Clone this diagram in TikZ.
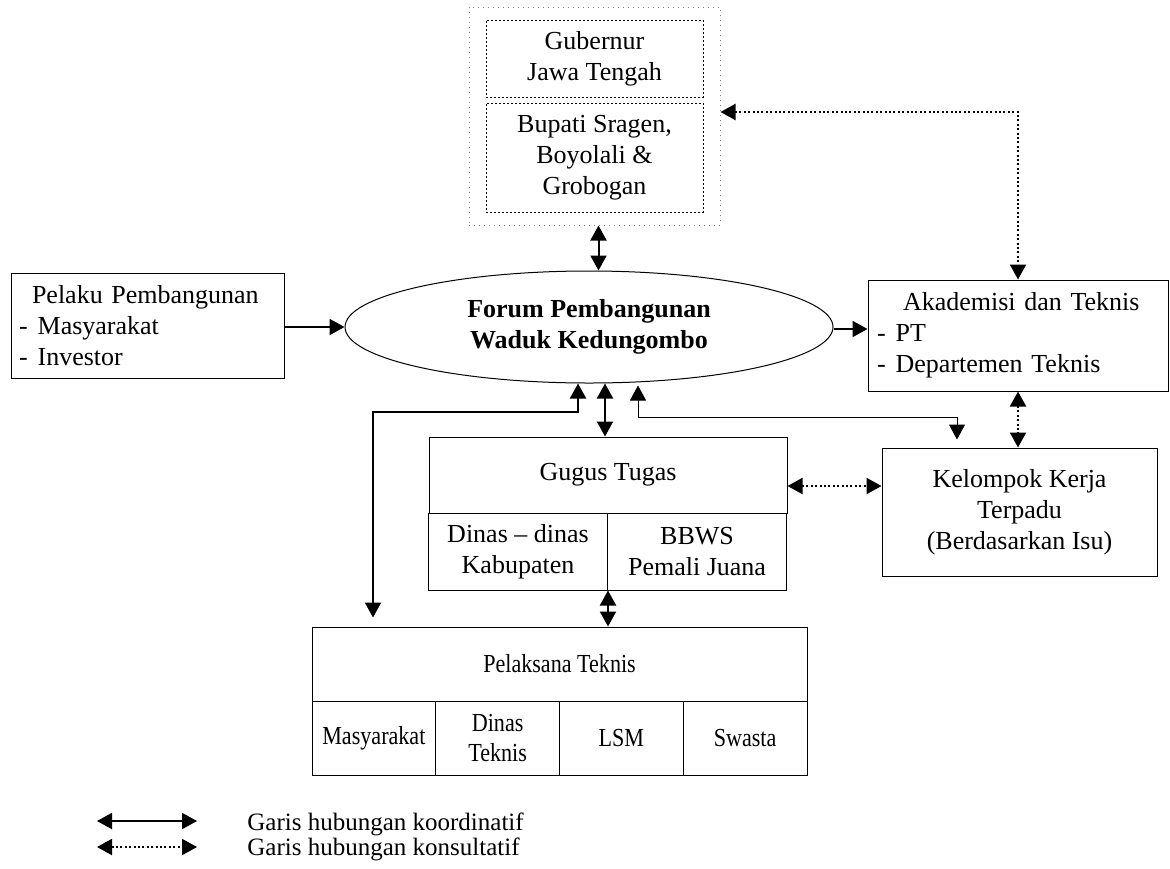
\documentclass[tikz,border=0pt]{standalone}
\usepackage{fontspec}
\setmainfont{Liberation Serif}
\newfontfamily\sempit[FakeStretch=0.85]{Liberation Serif}
\usetikzlibrary{arrows.meta}
\usetikzlibrary{shapes.geometric}

\begin{document}
\begin{tikzpicture}[
      x=0.5pt, y=-0.5pt,
      every node/.style={font=\fontsize{13}{15.5}\selectfont},
      box/.style={draw, line width=0.5pt, inner sep=0pt, align=center},
      kotakdalam/.style={draw, line width=0.4pt, dash pattern=on 1pt off 1pt, inner sep=0pt, align=center},
      koord/.style={line width=1pt, {Triangle[length=7.5pt,width=8pt]}-{Triangle[length=7.5pt,width=8pt]}},
      konsul/.style={line width=1pt, dash pattern=on 1pt off 1.2pt, {Triangle[length=7.5pt,width=8pt]}-{Triangle[length=7.5pt,width=8pt]}},
      tipis/.style={line width=0.5pt, {Triangle[length=7.5pt,width=8pt]}-{Triangle[length=7.5pt,width=8pt]}},
      ]

      \useasboundingbox (0,0) rectangle (1170,868);

      % pemerintah daerah
      \node[draw=gray, line width=0.5pt, dotted, minimum width=125.5pt, minimum height=109pt] (gov) at (594.5,116) {};
      \node[kotakdalam, minimum width=108.5pt, minimum height=38.5pt] (gub) at (594.5,58.5) {Gubernur\\Jawa Tengah};
      \node[kotakdalam, minimum width=108.5pt, minimum height=54.5pt] (bup) at (594.5,157.5) {Bupati Sragen,\\Boyolali \&\\Grobogan};

      % forum
      \node[ellipse, draw, line width=0.5pt, inner sep=0pt, minimum width=244pt, minimum height=56pt, align=center, font=\fontsize{13}{15.5}\selectfont\bfseries] (forum) at (589,327) {Forum Pembangunan\\Waduk Kedungombo};

      \node[box, inner xsep=4pt, text width=128.5pt, minimum height=52.5pt, align=left] (pelaku) at (147.5,326) {\hspace*{6.5pt}Pelaku Pembangunan\\-\hspace*{5pt}Masyarakat\\-\hspace*{5pt}Investor};
      \node[box, inner xsep=4.5pt, text width=141pt, minimum height=55.5pt, align=left] (akad) at (1018,335.5) {\hspace*{13pt}Akademisi dan Teknis\\-\hspace*{5pt}PT\\-\hspace*{5pt}Departemen Teknis};
      \node[box, minimum width=137.5pt, minimum height=64pt] (kel) at (1019.5,512) {Kelompok Kerja\\Terpadu\\(Berdasarkan Isu)};

      % gugus tugas
      \node[box, minimum width=179pt, minimum height=38pt] (gugus) at (608,475) {Gugus Tugas};
      \node[box, minimum width=89.5pt, minimum height=38.5pt] (dinas) at (518,551.5) {Dinas -- dinas\\Kabupaten};
      \node[box, minimum width=89.5pt, minimum height=38.5pt] (bbws) at (697,551.5) {BBWS\\Pemali Juana};

      % pelaksana teknis
      \node[box, minimum width=247.5pt, minimum height=37pt, font=\fontsize{13}{15}\sempit] (pelaksana) at (559.5,664) {Pelaksana Teknis};
      \foreach \nama/\teks [count=\i] in {masy/Masyarakat, dinast/{Dinas\\Teknis}, lsm/LSM, swasta/Swasta}
        \node[box, minimum width=61.875pt, minimum height=37pt, font=\fontsize{13}{15}\sempit] (\nama) at ({312+123.75*(\i-0.5)},738) {\teks};

      % garis hubungan
      \draw[koord] ([xshift=2pt]gov.south) -- ([xshift=2pt]gov.south |- forum.north);
      \draw[line width=1pt, -{Triangle[length=7.5pt,width=8pt]}] (pelaku.east |- forum.west) -- (forum.west);
      \draw[line width=1pt, -{Triangle[length=7.5pt,width=8pt]}] ([yshift=-1pt]forum.east) -- ([yshift=-1pt]forum.east -| akad.west);
      \draw[konsul] ([yshift=2pt]gov.east) -| (akad.north);
      \draw[konsul] (akad.south) -- (akad.south |- kel.north);
      \draw[koord] ([xshift=-1.5pt]gugus.north) -- ([xshift=-1.5pt]gugus.north |- forum.south);
      \draw[konsul] ([yshift=-5.5pt]gugus.east) -- ([yshift=-5.5pt]gugus.east -| kel.west);
      \draw[koord] (dinas.south east) -- (dinas.south east |- pelaksana.north);

      \coordinate (kk) at (638,417);
      \coordinate (kj) at (957,417);
      \draw[tipis, shorten <=1pt, shorten >=4pt] (kk |- forum.south) -- (kk) -- (kj) -- (kj |- kel.north);

      \coordinate (lk) at (578,412);
      \coordinate (lj) at (373,412);
      \draw[koord, shorten >=4.5pt] (lk |- forum.south) -- (lk) -- (lj) -- (lj |- pelaksana.north);

      % keterangan
      \coordinate (a1) at (97,821);
      \coordinate (a2) at (197,821);
      \coordinate (b1) at (97,847);
      \coordinate (b2) at (197,847);
      \draw[koord] (a1) -- (a2);
      \draw[konsul] (b1) -- (b2);
      \node[anchor=base west, inner sep=0pt, font=\fontsize{12.5}{14}\selectfont] (ket1) at (247,830) {Garis hubungan koordinatif};
      \node[anchor=base west, inner sep=0pt, font=\fontsize{12.5}{14}\selectfont] (ket2) at (247,855) {Garis hubungan konsultatif};

    \end{tikzpicture}
\end{document}
